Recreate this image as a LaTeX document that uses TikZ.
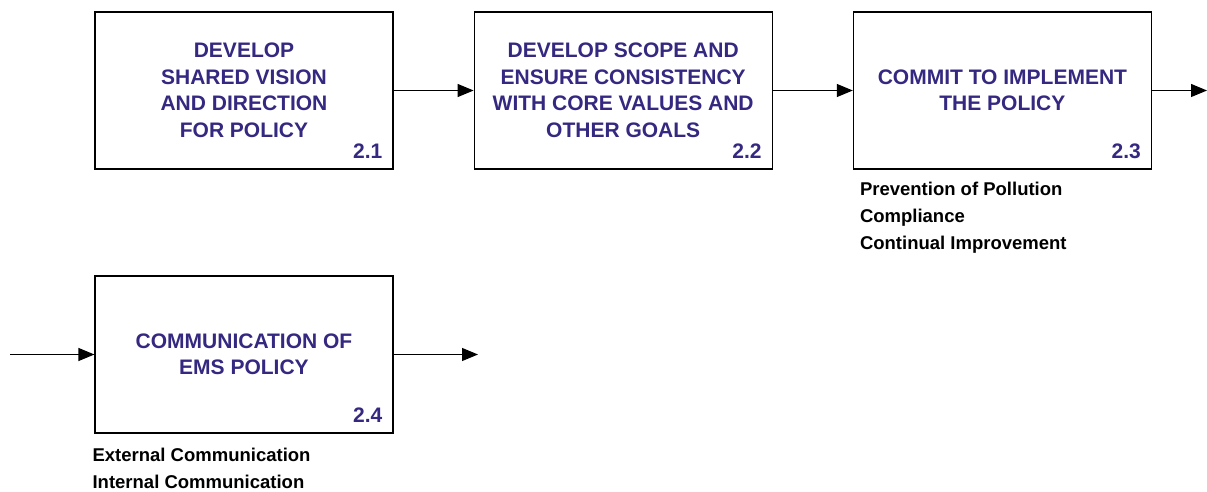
\documentclass[tikz,border=0pt]{standalone}
\usepackage{fontspec}
\setmainfont{Liberation Sans}
\usetikzlibrary{positioning,arrows.meta}
\definecolor{stagetext}{RGB}{52,40,128}
\tikzset{
	stage/.style = {draw, line width=1.2pt, minimum width=298pt, minimum height=157pt,
		align=center, text=stagetext, font=\bfseries\fontsize{21}{26.5}\selectfont},
	stagenum/.style = {anchor=south east, inner sep=0pt, text=stagetext,
		font=\bfseries\fontsize{21}{25}\selectfont},
	notes/.style = {anchor=north west, inner sep=0pt, align=left,
		font=\bfseries\fontsize{18.5}{27}\selectfont},
	flow/.style = {-{Triangle[length=16pt,width=13pt]}, line width=1.2pt}
}
\begin{document}
\begin{tikzpicture}[x=1pt, y=1pt]
	\useasboundingbox (0,0) rectangle (1207,491);
	% top row
	\node (vision) [stage] at (244,400.5) {DEVELOP\\SHARED VISION\\AND DIRECTION\\FOR POLICY};
	\node (scope) [stage, right=80pt of vision] {DEVELOP SCOPE AND\\ENSURE CONSISTENCY\\WITH CORE VALUES AND\\OTHER GOALS};
	\node (commit) [stage, right=80pt of scope] {COMMIT TO IMPLEMENT\\THE POLICY};
	% bottom row
	\node (communicate) [stage] at (244,136.5) {COMMUNICATION OF\\EMS POLICY};
	\node [stagenum] at ([shift={(-11,11)}]vision.south east) {2.1};
	\node [stagenum] at ([shift={(-11,11)}]scope.south east) {2.2};
	\node [stagenum] at ([shift={(-11,11)}]commit.south east) {2.3};
	\node [stagenum] at ([shift={(-11,11)}]communicate.south east) {2.4};
	\node (commitnotes) [notes] at ([shift={(7,-12)}]commit.south west) {Prevention of Pollution\\Compliance\\Continual Improvement};
	\node (commnotes) [notes] at ([shift={(-2,-14)}]communicate.south west) {External Communication\\Internal Communication};
	\coordinate (out3) at (1207,400.5);
	\coordinate (in4) at (10,136.5);
	\coordinate (out4) at (478,136.5);
	\draw [flow] (vision) -- (scope);
	\draw [flow] (scope) -- (commit);
	\draw [flow] (commit) -- (out3);
	\draw [flow] (in4) -- (communicate);
	\draw [flow] (communicate) -- (out4);
\end{tikzpicture}
\end{document}
